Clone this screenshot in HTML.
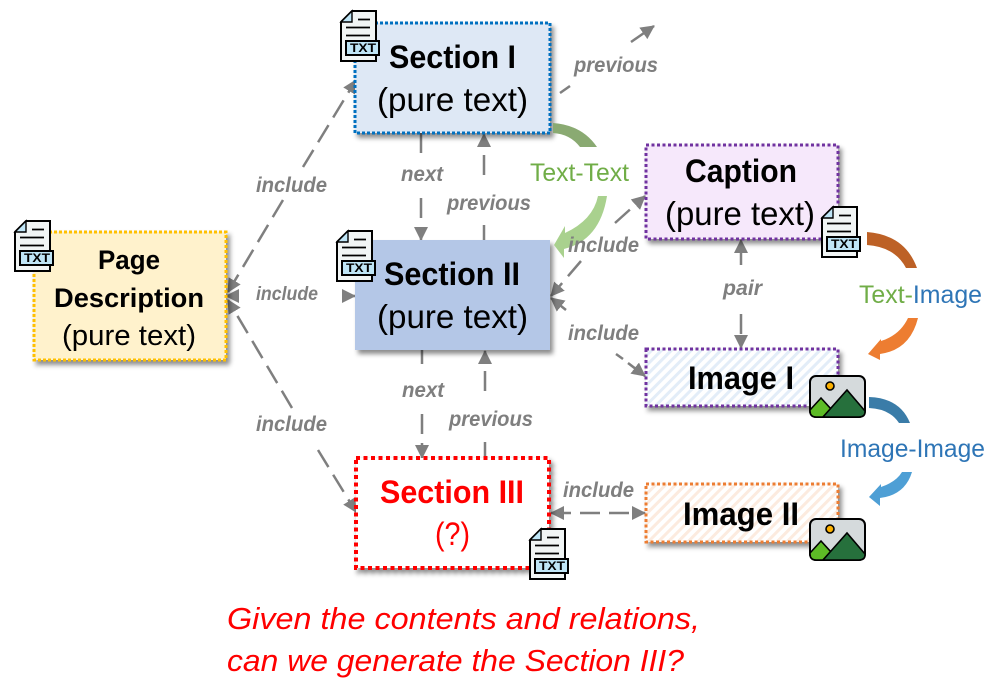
<!DOCTYPE html>
<html><head><meta charset="utf-8"><style>
html,body{margin:0;padding:0;background:#fff}
svg{display:block}
text{font-family:"Liberation Sans",sans-serif}
.t{font-weight:bold;fill:#000}
.r{fill:#000;font-size:33px}
.l{font-weight:bold;font-style:italic;fill:#7f7f7f;font-size:21px}
.c{font-size:25px}
.x{font-weight:bold;font-size:12px;fill:#000}
.a{stroke:#7f7f7f;stroke-width:2.5;fill:none;stroke-dasharray:20 9}
.b{stroke:#7f7f7f;stroke-width:2.5;fill:none}
</style></head><body>
<svg width="999" height="684" viewBox="0 0 999 684" xmlns="http://www.w3.org/2000/svg">
<defs>
<filter id="s" x="-10%" y="-10%" width="125%" height="130%"><feDropShadow dx="3" dy="4" stdDeviation="2.5" flood-color="#000" flood-opacity=".45"/></filter>
<pattern id="hb" width="7" height="7" patternUnits="userSpaceOnUse" patternTransform="rotate(-45)"><rect width="7" height="7" fill="#fff"/><rect width="7" height="3" fill="#e3edf8"/></pattern>
<pattern id="ho" width="7" height="7" patternUnits="userSpaceOnUse" patternTransform="rotate(-45)"><rect width="7" height="7" fill="#fff"/><rect width="7" height="3" fill="#fcebdf"/></pattern>
<marker id="m" markerUnits="userSpaceOnUse" markerWidth="15" markerHeight="15" refX="13" refY="7.5" orient="auto-start-reverse"><path d="M0 0.5L14 7.5L0 14.5Z" fill="#7f7f7f"/></marker>
<g id="doc">
<path d="M2 12L13 1H37V51H2Z" fill="#f1f5f5" stroke="#000" stroke-width="2"/>
<path d="M2 12H13V1Z" fill="#bfe5f6" stroke="#000" stroke-width="1.4"/>
<path d="M19 9.5H31M7 17.5H31M7 25.5H31" stroke="#000" stroke-width="1.7"/>
<rect x="7" y="31" width="33" height="14" fill="#bfe5f6" stroke="#000" stroke-width="2"/>
</g>
<g id="img">
<rect x="1" y="1" width="55" height="41" rx="6" fill="#d5dadc" stroke="#000" stroke-width="2"/>
<circle cx="21" cy="11" r="4" fill="#fbb000" stroke="#000" stroke-width="1.6"/>
<path d="M1 35L12 23L22 34L14 42H7Q1 42 1 36Z" fill="#5dbb26" stroke="#000" stroke-width="1.6"/>
<path d="M14 42L38 15L56 36V37Q56 42 50 42Z" fill="#26703c" stroke="#000" stroke-width="1.6"/>
</g>
</defs>

<!-- connectors -->
<path class="a" d="M283 200L228 292" marker-end="url(#m)"/>
<path class="a" d="M303 167L356 80" marker-end="url(#m)"/>
<path class="a" d="M292 408L228 300" marker-end="url(#m)"/>
<path class="a" d="M318 450L356 512" marker-end="url(#m)"/>
<path class="b" d="M226 296H239" marker-start="url(#m)"/>
<path class="b" d="M342 296H355" marker-end="url(#m)"/>
<path class="a" d="M421 133V158"/>
<path class="a" d="M421 198V240" marker-end="url(#m)"/>
<path class="a" d="M484 175V134" marker-end="url(#m)"/>
<path class="b" d="M484 225V240"/>
<path class="a" d="M422 350V364"/>
<path class="a" d="M422 414V458" marker-end="url(#m)"/>
<path class="a" d="M485 391V351" marker-end="url(#m)"/>
<path class="b" d="M485 442V458"/>
<path class="b" d="M560 93L570 86"/>
<path class="b" d="M631 42L654 26" marker-end="url(#m)"/>
<path class="a" d="M615 223L645 196" marker-end="url(#m)"/>
<path class="a" d="M581 261L551 296" marker-end="url(#m)"/>
<path class="b" d="M566 310L551 298" marker-end="url(#m)"/>
<path class="b" d="M616 354L623 359M628 363L645 376" marker-end="url(#m)"/>
<path class="b" d="M741 265V240" marker-end="url(#m)"/>
<path class="a" d="M741 314V348" marker-end="url(#m)"/>
<path class="a" d="M551 513H645" marker-start="url(#m)" marker-end="url(#m)"/>

<!-- boxes -->
<rect x="34" y="232" width="192" height="128" fill="#fff2cc" stroke="#ffc000" stroke-width="3" stroke-dasharray="3 2" filter="url(#s)"/>
<rect x="355" y="23" width="195" height="110" fill="#dee8f5" stroke="#0070c0" stroke-width="3" stroke-dasharray="3 2" filter="url(#s)"/>
<rect x="355" y="240" width="195" height="110" fill="#b4c7e7" filter="url(#s)"/>
<rect x="646" y="145" width="192" height="94" fill="#f6e8fb" stroke="#7030a0" stroke-width="3" stroke-dasharray="3 2.5" filter="url(#s)"/>
<rect x="646" y="349" width="192" height="57" fill="url(#hb)" stroke="#7030a0" stroke-width="3" stroke-dasharray="3 2.5" filter="url(#s)"/>
<rect x="646" y="484" width="192" height="58" fill="url(#ho)" stroke="#ed7d31" stroke-width="3" stroke-dasharray="3 2.5" filter="url(#s)"/>
<rect x="356" y="458" width="193" height="110" fill="#fff" stroke="#ff0000" stroke-width="4" stroke-dasharray="4 3.5" filter="url(#s)"/>

<!-- curved arrows -->
<path d="M553 123Q582 125 597 147H580Q570 134 553 133Z" fill="#8aaa72"/>
<path d="M607 196H598Q593 220 565 233V226L554 245L564 258V249Q600 240 607 196Z" fill="#a9d18e"/>
<path d="M867 232Q905 235 917 268H906Q895 247 867 245Z" fill="#bd6126"/>
<path d="M918 318H908Q900 335 881 341V339L868 354L880 360V354Q910 350 918 318Z" fill="#ed7d31"/>
<path d="M869 397Q900 398 910 423H899Q890 409 869 408Z" fill="#3a7ca8"/>
<path d="M912 472H902Q896 482 881 487V484L869 497L880 506V498Q905 495 912 472Z" fill="#4e9fd5"/>

<!-- box titles -->
<text class="t" x="98" y="269" font-size="27" textLength="62" lengthAdjust="spacingAndGlyphs">Page</text>
<text class="t" x="54" y="307" font-size="27" textLength="150" lengthAdjust="spacingAndGlyphs">Description</text>
<text x="62" y="345" font-size="29" textLength="134" lengthAdjust="spacingAndGlyphs" fill="#000">(pure text)</text>
<text class="t" x="389" y="68" font-size="32" textLength="127" lengthAdjust="spacingAndGlyphs">Section I</text>
<text class="r" x="377" y="111" textLength="151" lengthAdjust="spacingAndGlyphs">(pure text)</text>
<text class="t" x="384" y="285" font-size="32" textLength="136" lengthAdjust="spacingAndGlyphs">Section II</text>
<text class="r" x="377" y="328" textLength="151" lengthAdjust="spacingAndGlyphs">(pure text)</text>
<text class="t" x="685" y="182" font-size="32" textLength="112" lengthAdjust="spacingAndGlyphs">Caption</text>
<text class="r" x="665" y="225" textLength="150" lengthAdjust="spacingAndGlyphs">(pure text)</text>
<text class="t" x="688" y="389" font-size="32" textLength="106" lengthAdjust="spacingAndGlyphs">Image I</text>
<text class="t" x="683" y="525" font-size="32" textLength="116" lengthAdjust="spacingAndGlyphs">Image II</text>
<text class="t" x="380" y="503" font-size="32" textLength="144" lengthAdjust="spacingAndGlyphs" style="fill:#f00">Section III</text>
<text x="435" y="545" font-size="32" textLength="35" lengthAdjust="spacingAndGlyphs" fill="#f00">(?)</text>

<!-- connector labels -->
<text class="l" x="256" y="192" textLength="71" lengthAdjust="spacingAndGlyphs">include</text>
<text class="l" x="256" y="300" style="font-size:19px" textLength="62" lengthAdjust="spacingAndGlyphs">include</text>
<text class="l" x="256" y="431" textLength="71" lengthAdjust="spacingAndGlyphs">include</text>
<text class="l" x="401" y="181" textLength="42" lengthAdjust="spacingAndGlyphs">next</text>
<text class="l" x="447" y="210" textLength="84" lengthAdjust="spacingAndGlyphs">previous</text>
<text class="l" x="402" y="397" textLength="42" lengthAdjust="spacingAndGlyphs">next</text>
<text class="l" x="449" y="426" textLength="84" lengthAdjust="spacingAndGlyphs">previous</text>
<text class="l" x="574" y="72" textLength="84" lengthAdjust="spacingAndGlyphs">previous</text>
<text class="l" x="568" y="252" textLength="71" lengthAdjust="spacingAndGlyphs">include</text>
<text class="l" x="568" y="340" textLength="71" lengthAdjust="spacingAndGlyphs">include</text>
<text class="l" x="563" y="497" textLength="71" lengthAdjust="spacingAndGlyphs">include</text>
<text class="l" x="723" y="295" textLength="39" lengthAdjust="spacingAndGlyphs">pair</text>

<!-- relation labels -->
<text class="c" x="530" y="181" textLength="99" lengthAdjust="spacingAndGlyphs" fill="#70ad47">Text-Text</text>
<text class="c" x="859" y="303" textLength="123" lengthAdjust="spacingAndGlyphs" fill="#70ad47">Text-<tspan fill="#2e75b6">Image</tspan></text>
<text class="c" x="840" y="457" textLength="145" lengthAdjust="spacingAndGlyphs" fill="#2e75b6">Image-Image</text>

<!-- icons -->
<use href="#doc" x="13" y="220"/><text class="x" x="20" y="262" textLength="26" lengthAdjust="spacingAndGlyphs" dx="4">TXT</text>
<use href="#doc" x="339" y="10"/><text class="x" x="346" y="52" textLength="26" lengthAdjust="spacingAndGlyphs" dx="4">TXT</text>
<use href="#doc" x="335" y="230"/><text class="x" x="342" y="272" textLength="26" lengthAdjust="spacingAndGlyphs" dx="4">TXT</text>
<use href="#doc" x="820" y="206"/><text class="x" x="827" y="248" textLength="26" lengthAdjust="spacingAndGlyphs" dx="4">TXT</text>
<use href="#doc" x="528" y="528"/><text class="x" x="535" y="570" textLength="26" lengthAdjust="spacingAndGlyphs" dx="4">TXT</text>
<use href="#img" x="809" y="375"/>
<use href="#img" x="809" y="518"/>

<!-- question -->
<text x="227" y="629" font-size="31" font-style="italic" textLength="473" lengthAdjust="spacingAndGlyphs" fill="#f00">Given the contents and relations,</text>
<text x="227" y="671" font-size="31" font-style="italic" textLength="457" lengthAdjust="spacingAndGlyphs" fill="#f00">can we generate the Section III?</text>
</svg>
</body></html>
